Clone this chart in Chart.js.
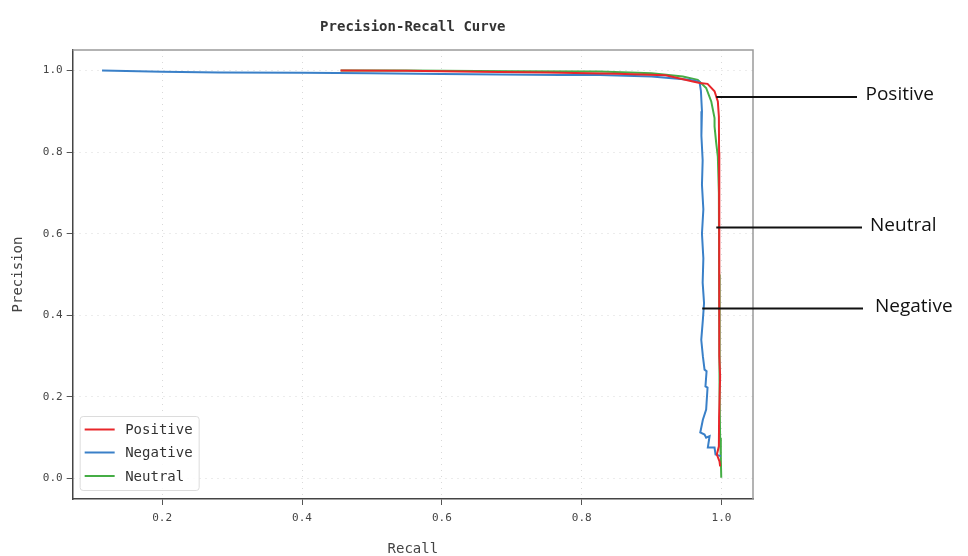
<!DOCTYPE html>
<html>
<head>
<meta charset="utf-8">
<script src="https://cdn.jsdelivr.net/npm/chart.js@4.4.0/dist/chart.umd.min.js"></script>
<style>
  html, body { margin: 0; padding: 0; background: #fff; }
  #wrap { width: 968px; height: 556px; }
</style>
</head>
<body>
<div id="wrap"><canvas id="prChart" width="968" height="556"></canvas></div>
<script>
// values (recall / precision pairs)
const posRecall = [0.455, 0.55, 0.65, 0.75, 0.85, 0.92, 0.959, 0.969, 0.980, 0.990, 0.9947, 0.9962, 0.9965, 0.997, 0.9965, 0.997, 0.9965, 0.997, 0.998, 0.9965, 0.9962, 0.9933, 0.9971, 0.998];
const posPrecision = [1.0, 0.999, 0.997, 0.995, 0.992, 0.988, 0.973, 0.969, 0.967, 0.949, 0.924, 0.887, 0.8, 0.7, 0.6, 0.5, 0.4, 0.3, 0.25, 0.15, 0.079, 0.059, 0.042, 0.03];

const negRecall = [0.114, 0.2, 0.282, 0.4, 0.497, 0.6, 0.683, 0.77, 0.826, 0.9, 0.954, 0.9685, 0.9705, 0.972, 0.9712, 0.973, 0.972, 0.974, 0.972, 0.974, 0.973, 0.975, 0.9733, 0.971, 0.9733, 0.9757, 0.9786, 0.977, 0.98, 0.978, 0.9733, 0.9696, 0.9757, 0.978, 0.9829, 0.9804, 0.99, 0.9914, 0.999];
const negPrecision = [1.0, 0.997, 0.995, 0.994, 0.993, 0.991, 0.99, 0.989, 0.989, 0.985, 0.977, 0.972, 0.95, 0.9, 0.84, 0.78, 0.72, 0.66, 0.6, 0.54, 0.48, 0.43, 0.389, 0.34, 0.30, 0.267, 0.263, 0.226, 0.223, 0.169, 0.144, 0.113, 0.108, 0.100, 0.104, 0.076, 0.076, 0.059, 0.055];

const neuRecall = [0.4554, 0.55, 0.7, 0.8256, 0.9, 0.9447, 0.966, 0.978, 0.9853, 0.99, 0.99, 0.9924, 0.9947, 0.9962, 0.9965, 0.997, 0.9975, 0.998, 0.999, 0.9996];
const neuPrecision = [1.0, 1.0, 0.998, 0.9975, 0.993, 0.985, 0.977, 0.957, 0.924, 0.883, 0.863, 0.822, 0.789, 0.7, 0.5, 0.3, 0.2, 0.1, 0.05, 0.002];

const seriesNames = ['Positive', 'Negative', 'Neutral'];
const seriesColors = ['#e8262a', '#3a80c8', '#45ad45'];

const xTickValues = [0.2, 0.4, 0.6, 0.8, 1.0];
const yTickValues = [0.0, 0.2, 0.4, 0.6, 0.8, 1.0];

// callouts on the right side of the plot
const annotLabels = ['Positive', 'Neutral', 'Negative'];
const annotRecall = [0.9925, 0.9925, 0.9724];
const annotPrecision = [0.935, 0.615, 0.417];

const toPoints = (xs, ys) => xs.map((x, i) => ({ x: x, y: ys[i] }));

const monoFont = "'DejaVu Sans Mono', monospace";

// frame + title + inside legend + callouts
const extrasPlugin = {
  id: 'extras',
  beforeDatasetsDraw(chart) {
    const { ctx, chartArea: a } = chart;
    ctx.save();
    ctx.strokeStyle = '#9a9a9a';
    ctx.lineWidth = 1.5;
    ctx.beginPath();
    ctx.moveTo(a.left, a.top);
    ctx.lineTo(a.right, a.top);
    ctx.lineTo(a.right, a.bottom);
    ctx.stroke();
    ctx.restore();
  },
  afterDraw(chart) {
    const { ctx, chartArea: a, scales } = chart;
    ctx.save();

    // title
    ctx.fillStyle = '#333';
    ctx.font = 'bold 14px ' + monoFont;
    ctx.textAlign = 'center';
    ctx.textBaseline = 'middle';
    ctx.fillText('Precision-Recall Curve', (a.left + a.right) / 2, 27);

    // legend box
    const bx = a.left + 7.5, by = a.bottom - 82.5, bw = 119, bh = 74;
    ctx.fillStyle = 'rgba(255,255,255,0.85)';
    ctx.strokeStyle = '#dcdcdc';
    ctx.lineWidth = 1;
    ctx.beginPath();
    ctx.roundRect(bx, by, bw, bh, 3);
    ctx.fill();
    ctx.stroke();
    const rows = [13, 36, 59.5];
    ctx.font = '14px ' + monoFont;
    ctx.textAlign = 'left';
    chart.data.datasets.forEach((ds, i) => {
      const y = by + rows[i];
      ctx.strokeStyle = ds.borderColor;
      ctx.lineWidth = 2;
      ctx.beginPath();
      ctx.moveTo(bx + 4.5, y);
      ctx.lineTo(bx + 34.5, y);
      ctx.stroke();
      ctx.fillStyle = '#333';
      ctx.fillText(ds.label, bx + 45, y + 1);
    });

    // callouts
    const ends = [104, 109, 110];
    const gaps = [8.5, 8, 12];
    ctx.strokeStyle = '#111';
    ctx.lineWidth = 2;
    ctx.fillStyle = '#111';
    ctx.font = "19px 'Open Sans', 'Noto Sans', sans-serif";
    annotLabels.forEach((label, i) => {
      const x0 = scales.x.getPixelForValue(annotRecall[i]);
      const y0 = scales.y.getPixelForValue(annotPrecision[i]);
      const x1 = a.right + ends[i];
      ctx.beginPath();
      ctx.moveTo(x0, y0);
      ctx.lineTo(x1, y0);
      ctx.stroke();
      ctx.fillText(label, x1 + gaps[i], y0 - 2);
    });
    ctx.restore();
  }
};

const ctx = document.getElementById('prChart').getContext('2d');

const data = {
  datasets: [
    { label: seriesNames[0], data: toPoints(posRecall, posPrecision), borderColor: seriesColors[0], backgroundColor: seriesColors[0] },
    { label: seriesNames[1], data: toPoints(negRecall, negPrecision), borderColor: seriesColors[1], backgroundColor: seriesColors[1] },
    { label: seriesNames[2], data: toPoints(neuRecall, neuPrecision), borderColor: seriesColors[2], backgroundColor: seriesColors[2] },
  ].map(ds => Object.assign(ds, { showLine: true, pointRadius: 0, borderWidth: 2, tension: 0 })),
};

const axisCommon = {
  type: 'linear',
  grid: { color: 'rgba(170,170,170,0.45)', lineWidth: 1, drawTicks: true, tickLength: 6, tickColor: '#555', tickWidth: 1 },
  border: { color: '#444', width: 1.5, dash: [1, 5] },
};

const config = {
  type: 'scatter',
  data: data,
  options: {
    responsive: false,
    animation: false,
    layout: { padding: { top: 50, right: 215, left: 0, bottom: -2 } },
    plugins: { legend: { display: false }, title: { display: false }, tooltip: { enabled: false } },
    scales: {
      x: Object.assign({}, axisCommon, {
        min: 0.072,
        max: 1.045,
        afterBuildTicks: s => { s.ticks = xTickValues.map(v => ({ value: v })); },
        ticks: { color: '#444', padding: 7, font: { family: monoFont, size: 11 }, callback: v => Number(v).toFixed(1), maxRotation: 0 },
        title: { display: true, text: 'Recall', color: '#444', font: { family: monoFont, size: 14 }, padding: { top: 9, bottom: 0 } },
      }),
      y: Object.assign({}, axisCommon, {
        min: -0.05,
        max: 1.05,
        afterBuildTicks: s => { s.ticks = yTickValues.map(v => ({ value: v })); },
        ticks: { color: '#444', padding: 4, font: { family: monoFont, size: 11 }, callback: v => Number(v).toFixed(1) },
        title: { display: true, text: 'Precision', color: '#444', font: { family: monoFont, size: 14 }, padding: { top: 10, bottom: 12 } },
      }),
    },
  },
  plugins: [extrasPlugin],
};

let myChart = new Chart(ctx, config);
</script>
</body>
</html>
